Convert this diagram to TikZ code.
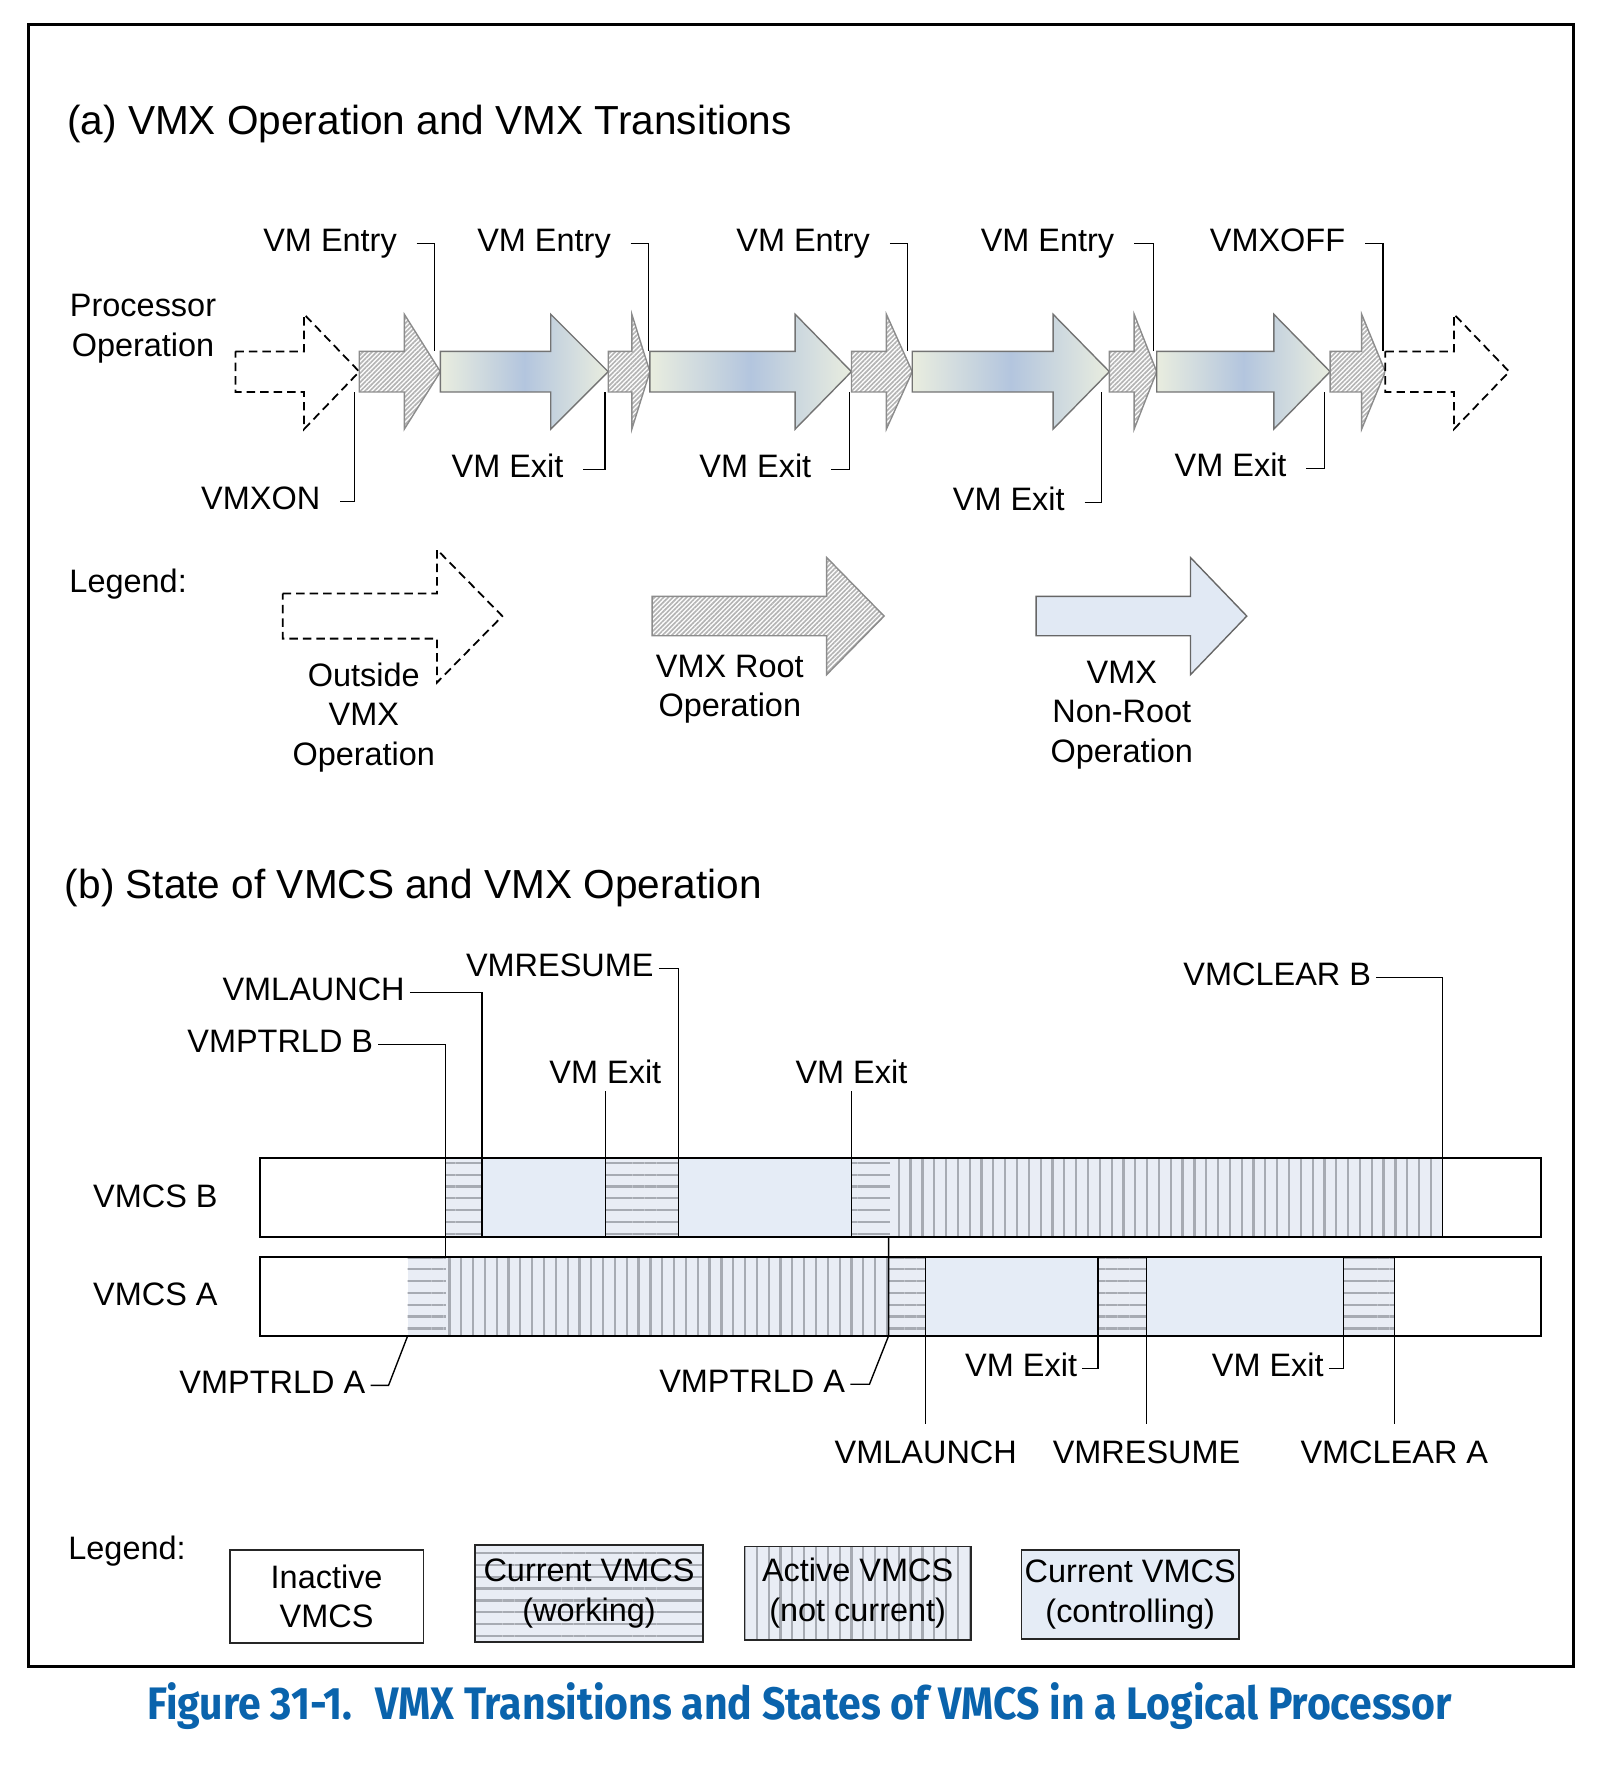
\documentclass[tikz,border=0pt]{standalone}
\usepackage{fontspec}
\usepackage{graphicx}
\setmainfont{Liberation Sans}
\newfontfamily\capfamily{Fira Sans}
\usetikzlibrary{patterns.meta}
\definecolor{hatchgray}{HTML}{B4B4B4}
\definecolor{hatchedge}{HTML}{8C8C8C}
\definecolor{gradgreen}{HTML}{E9EDDF}
\definecolor{gradblue}{HTML}{B3C5DE}
\definecolor{nonrootblue}{HTML}{E1E9F4}
\definecolor{ctrlblue}{HTML}{E5ECF6}
\definecolor{stripebg}{HTML}{E9EDF5}
\definecolor{stripegray}{HTML}{A7ABB3}
\definecolor{captionblue}{HTML}{0A63AC}
\newcommand{\lblfont}{\fontsize{8.2}{10}\selectfont}
\newcommand{\ttlfont}{\fontsize{10.25}{12}\selectfont}
\newcommand{\capfont}{\capfamily\bfseries\fontsize{11.5}{14}\selectfont}
\tikzstyle{tag} = [font=\lblfont, inner sep=0pt, inner xsep=1.7mm, text height=5.9pt, text depth=1.7pt]
\tikzstyle{tagb} = [tag, inner xsep=0.4mm]
\tikzstyle{note} = [font=\lblfont, inner sep=0pt, align=center]
\tikzstyle{ttl} = [font=\ttlfont, inner sep=0pt, anchor=base west]
\tikzstyle{leader} = [line width=0.35pt, black]
\tikzstyle{bar} = [draw, line width=0.5pt]
\tikzstyle{outside} = [draw, line width=0.45pt, dash pattern=on 0.75mm off 0.45mm, fill=white]
\tikzstyle{root} = [draw=hatchedge, line width=0.35pt, preaction={fill=white}, pattern={Lines[angle=45,distance=0.82pt,line width=0.42pt]}, pattern color=hatchgray]
\tikzstyle{nonroot} = [draw=black!55, line width=0.35pt, left color=gradgreen, right color=gradgreen, middle color=gradblue]
\tikzstyle{nonrootkey} = [draw=black!60, line width=0.35pt, fill=nonrootblue]
\tikzstyle{working} = [preaction={fill=stripebg}, pattern={Lines[angle=0,distance=1.05mm,line width=0.2mm]}, pattern color=stripegray]
\tikzstyle{active} = [preaction={fill=stripebg}, pattern={Lines[angle=90,distance=1.05mm,line width=0.2mm]}, pattern color=stripegray]
\tikzstyle{control} = [fill=ctrlblue]
\tikzstyle{legbox} = [note, draw=black!85, line width=0.45pt]
% left, head base, tip, middle y, half shaft, half head
\newcommand{\fatarrow}[7][]{%
  \draw[#1] (#2,{#5-#6}) -- (#3,{#5-#6}) -- (#3,{#5-#7}) -- (#4,#5) -- (#3,{#5+#7}) -- (#3,{#5+#6}) -- (#2,{#5+#6}) -- cycle;}

\begin{document}
\begin{tikzpicture}[x=0.1mm, y=-0.1mm]
    \useasboundingbox (0,0) rectangle (1421,1568);
    \draw[line width=0.8pt] (25,22) rectangle (1397,1480);

    % (a) transitions
    \node[ttl] (titlea) at (59,119) {(a) VMX Operation and VMX Transitions};
    \node[note] (procop) at (127,292) {Processor\\Operation};

    \fatarrow[outside]{209}{270}{319}{330}{18}{51}
    \fatarrow[root]{319}{359}{391}{330}{18}{51}
    \fatarrow[nonroot]{391}{489}{540}{330}{18}{51}
    \fatarrow[root]{540}{561}{577}{330}{18}{51}
    \fatarrow[nonroot]{577}{706}{756}{330}{18}{51}
    \fatarrow[root]{756}{787}{810}{330}{18}{51}
    \fatarrow[nonroot]{810}{935}{985}{330}{18}{51}
    \fatarrow[root]{985}{1007}{1027}{330}{18}{51}
    \fatarrow[nonroot]{1027}{1131}{1181}{330}{18}{51}
    \fatarrow[root]{1181}{1209}{1230}{330}{18}{51}
    \fatarrow[outside]{1230}{1291}{1340}{330}{18}{51}

    % junctions
    \coordinate (j1) at (386,312);
    \coordinate (j2) at (576,312);
    \coordinate (j3) at (806,312);
    \coordinate (j4) at (1024,312);
    \coordinate (j5) at (1228,312);
    \coordinate (k0) at (315,348);
    \coordinate (k1) at (537,348);
    \coordinate (k2) at (754,348);
    \coordinate (k3) at (978,348);
    \coordinate (k4) at (1176,348);

    \node[tag, anchor=east] (entry1) at (370,216) {VM Entry};
    \node[tag, anchor=east] (entry2) at (560,216) {VM Entry};
    \node[tag, anchor=east] (entry3) at (790,216) {VM Entry};
    \node[tag, anchor=east] (entry4) at (1007,216) {VM Entry};
    \node[tag, anchor=east] (vmxoff) at (1212,216) {VMXOFF};
    \node[tag, anchor=east] (vmxon) at (302,445) {VMXON};
    \node[tag, anchor=east] (exit1) at (518,417) {VM Exit};
    \node[tag, anchor=east] (exit2) at (738,417) {VM Exit};
    \node[tag, anchor=east] (exit3) at (963,446) {VM Exit};
    \node[tag, anchor=east] (exit4) at (1160,416) {VM Exit};

    \draw[leader] (entry1.east) -| (j1);
    \draw[leader] (entry2.east) -| (j2);
    \draw[leader] (entry3.east) -| (j3);
    \draw[leader] (entry4.east) -| (j4);
    \draw[leader] (vmxoff.east) -| (j5);
    \draw[leader] (vmxon.east) -| (k0);
    \draw[leader] (exit1.east) -| (k1);
    \draw[leader] (exit2.east) -| (k2);
    \draw[leader] (exit3.east) -| (k3);
    \draw[leader] (exit4.east) -| (k4);

    % legend (a)
    \node[note, anchor=base west] (legenda) at (61,526) {Legend:};
    \fatarrow[outside]{251}{388}{446}{547}{20}{59}
    \fatarrow[root]{579}{734}{785}{547}{17.5}{52}
    \fatarrow[nonrootkey]{920}{1057}{1107}{547}{17.5}{52}
    \node[note] (outsidetxt) at (323,637) {Outside\\VMX\\Operation};
    \node[note] (roottxt) at (648,612) {VMX Root\\Operation};
    \node[note] (nonroottxt) at (996,635) {VMX\\Non-Root\\Operation};

    % (b) VMCS states
    \node[ttl] (titleb) at (57,798) {(b) State of VMCS and VMX Operation};
    \node[note, anchor=base] (vmcsb) at (138,1072) {VMCS B};
    \node[note, anchor=base] (vmcsa) at (138,1159) {VMCS A};

    \fill[working] (396,1028) rectangle (428,1098);
    \fill[control] (428,1028) rectangle (538,1098);
    \fill[working] (538,1028) rectangle (602,1098);
    \fill[control] (602,1028) rectangle (756,1098);
    \fill[working] (756,1028) rectangle (790,1098);
    \fill[active] (790,1028) rectangle (1281,1098);
    \draw[bar] (231,1028) rectangle (1368,1098);

    \fill[working] (362,1116) rectangle (396,1186);
    \fill[active] (396,1116) rectangle (789,1186);
    \fill[working] (789,1116) rectangle (822,1186);
    \fill[control] (822,1116) rectangle (975,1186);
    \fill[working] (975,1116) rectangle (1018,1186);
    \fill[control] (1018,1116) rectangle (1193,1186);
    \fill[working] (1193,1116) rectangle (1238,1186);
    \draw[bar] (231,1116) rectangle (1368,1186);

    \coordinate (pb) at (395.5,1116);
    \coordinate (lb) at (428,1098);
    \coordinate (rb) at (602.5,1098);
    \coordinate (xb1) at (537.5,1098);
    \coordinate (xb2) at (756,1098);
    \coordinate (cb) at (1281,1098);
    \coordinate (pa1) at (362,1186);
    \coordinate (pa2) at (789,1186);
    \coordinate (pa2top) at (789,1098);
    \coordinate (xa1) at (975,1116);
    \coordinate (xa2) at (1193,1116);
    \coordinate (la) at (822,1116);
    \coordinate (ra) at (1018,1116);
    \coordinate (ca) at (1238,1116);

    \node[tagb, anchor=east] (ptrldb) at (336,927.5) {VMPTRLD B};
    \node[tagb, anchor=east] (launchb) at (364,881) {VMLAUNCH};
    \node[tagb, anchor=east] (resumeb) at (585,860) {VMRESUME};
    \node[tagb, anchor=south] (exitb1) at (537.5,969) {VM Exit};
    \node[tagb, anchor=south] (exitb2) at (756,969) {VM Exit};
    \node[tagb, anchor=east] (clearb) at (1222,868) {VMCLEAR B};
    \node[tagb, anchor=east] (ptrlda1) at (329,1230) {VMPTRLD A};
    \node[tagb, anchor=east] (ptrlda2) at (755,1229) {VMPTRLD A};
    \node[tagb, anchor=east] (exita1) at (961,1215) {VM Exit};
    \node[tagb, anchor=east] (exita2) at (1180,1215) {VM Exit};
    \node[tagb, inner ysep=1.4mm, anchor=north] (launcha) at (822,1264) {VMLAUNCH};
    \node[tagb, inner ysep=1.4mm, anchor=north] (resumea) at (1018,1264) {VMRESUME};
    \node[tagb, inner ysep=1.4mm, anchor=north] (cleara) at (1238,1264) {VMCLEAR A};

    \draw[leader] (ptrldb.east) -| (pb);
    \draw[leader] (launchb.east) -| (lb);
    \draw[leader] (resumeb.east) -| (rb);
    \draw[leader] (exitb1.south) -- (xb1);
    \draw[leader] (exitb2.south) -- (xb2);
    \draw[leader] (clearb.east) -| (cb);
    \draw[leader] (ptrlda1.east) -- ++(16,0) -- (pa1);
    \draw[leader] (ptrlda2.east) -- ++(17,0) -- (pa2) -- (pa2top);
    \draw[leader] (exita1.east) -| (xa1);
    \draw[leader] (exita2.east) -| (xa2);
    \draw[leader] (launcha.north) -- (la);
    \draw[leader] (resumea.north) -- (ra);
    \draw[leader] (cleara.north) -- (ca);

    % legend (b)
    \node[note, anchor=base west] (legendb) at (60,1385) {Legend:};
    \node[legbox, fill=white, minimum width=17.2mm, minimum height=8.3mm] (inactivekey) at (290,1417.5) {Inactive\\VMCS};
    \node[legbox, working, minimum width=20.2mm, minimum height=8.6mm] (workingkey) at (523,1415) {Current VMCS\\(working)};
    \node[legbox, active, minimum width=20.1mm, minimum height=8.3mm] (activekey) at (761.5,1414.5) {Active VMCS\\(not current)};
    \node[legbox, control, minimum width=19.3mm, minimum height=7.9mm] (controlkey) at (1003.5,1415.5) {Current VMCS\\(controlling)};

    % caption
    \node[font=\capfont, text=captionblue, inner sep=0pt, anchor=base] (caption) at (710,1527) {\scalebox{0.9}[1]{Figure 31-1.\hspace{0.55em}VMX Transitions and States of VMCS in a Logical Processor}};
\end{tikzpicture}
\end{document}
